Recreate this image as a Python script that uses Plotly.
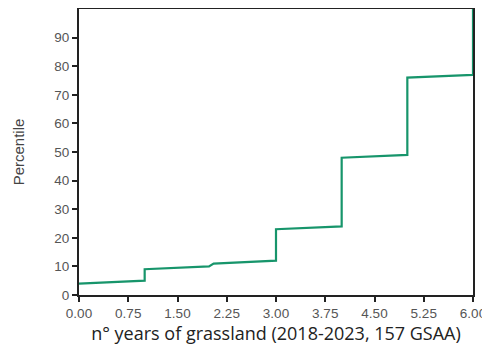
import plotly.graph_objects as go

# cumulative percentile of GSAA by number of grassland years
years = [0, 1, 1, 1.98, 2.05, 3, 3, 4, 4, 5, 5, 6, 6]
percentile = [4, 5, 9, 10, 11, 12, 23, 24, 48, 49, 76, 77, 100]

x_ticks = [0, 0.75, 1.5, 2.25, 3, 3.75, 4.5, 5.25, 6]
x_labels = ["0.00", "0.75", "1.50", "2.25", "3.00", "3.75", "4.50", "5.25", "6.00"]
y_ticks = [0, 10, 20, 30, 40, 50, 60, 70, 80, 90]

fig = go.Figure(go.Scatter(
    x=years, y=percentile, mode="lines",
    line=dict(color="#17956b", width=2.2),
    showlegend=False,
))

axis_style = dict(
    showline=True, linecolor="#222", linewidth=2, mirror=True,
    ticks="outside", ticklen=5, tickwidth=2, tickcolor="#222",
    showgrid=False, zeroline=False, automargin=False,
    tickfont=dict(family="Liberation Sans, Arial", size=13.5, color="#555"),
)

fig.update_xaxes(
    range=[0, 6], tickvals=x_ticks, ticktext=x_labels,
    title=dict(text="n° years of grassland (2018-2023, 157 GSAA)",
               font=dict(family="Open Sans, Liberation Sans", size=18, color="#222"),
               standoff=4),
    **axis_style,
)
fig.update_yaxes(
    range=[0, 100], tickvals=y_ticks,
    title=dict(text="Percentile",
               font=dict(family="Liberation Sans, Arial", size=15, color="#444"),
               standoff=26),
    **axis_style,
)

# the page body adds an 8px offset, so the figure is sized to fit the window
fig.update_layout(
    width=482, height=341,
    margin=dict(l=71, r=17, t=1, b=54),
    plot_bgcolor="white", paper_bgcolor="white",
)

fig.write_html("out.html")
